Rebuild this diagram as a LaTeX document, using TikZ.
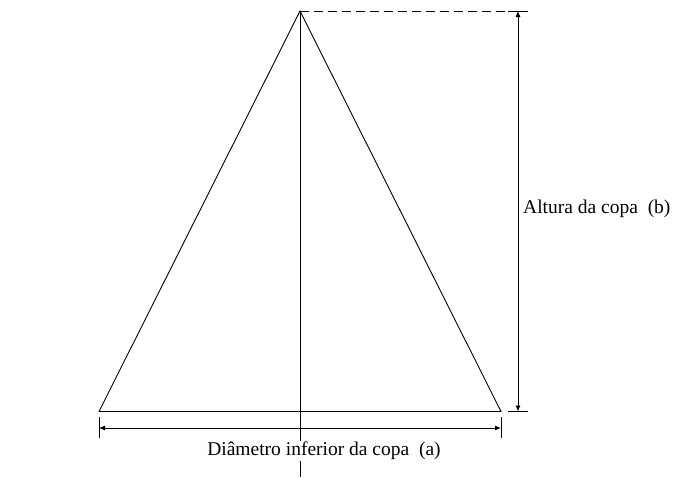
\documentclass[tikz,border=0pt]{standalone}
\usepackage{fontspec}
\setmainfont{Liberation Serif}
\usetikzlibrary{arrows.meta}
\tikzset{
  ln/.style={line width=0.9pt, black},
  dimarrow/.style={ln, {Latex[length=6pt,width=5pt]}-{Latex[length=6pt,width=5pt]}},
  lbl/.style={font=\fontsize{19.5}{22}\selectfont, inner sep=1pt}
}
\begin{document}
\begin{tikzpicture}[x=1pt,y=-1pt]
\useasboundingbox (0,0) rectangle (674,477);
\coordinate (apex) at (300,11);
\coordinate (bl) at (99,411.5);
\coordinate (br) at (501,411.5);
\coordinate (bot) at (300,477);
\coordinate (dtop) at (508,11);
\coordinate (dtopR) at (528,11);
\coordinate (dbotL) at (508,411.5);
\coordinate (dbotR) at (528,411.5);
\coordinate (vt) at (518,11);
\coordinate (vb) at (518,411.5);
\coordinate (tlA) at (99,417);
\coordinate (tlB) at (99,438);
\coordinate (trA) at (501,417);
\coordinate (trB) at (501,438);
\coordinate (hl) at (99,428);
\coordinate (hr) at (501,428);
% triangle
\draw[ln] (bl) -- (apex) -- (br) -- cycle;
% center line
\draw[ln] (apex) -- (bot);
% dashed top
\draw[ln, dash pattern=on 9pt off 5pt] (apex) -- (dtop);
\draw[ln] (dtop) -- (dtopR);
\draw[ln] (dbotL) -- (dbotR);
% vertical dimension
\draw[dimarrow] (vt) -- (vb);
% horizontal dimension
\draw[ln] (tlA) -- (tlB);
\draw[ln] (trA) -- (trB);
\draw[dimarrow] (hl) -- (hr);
% labels
\node[lbl, fill=white] (diam) at (324,451) {Diâmetro inferior da copa\ \ (a)};
\node[lbl, anchor=west] (alt) at (522,209) {Altura da copa\ \ (b)};
\end{tikzpicture}
\end{document}
